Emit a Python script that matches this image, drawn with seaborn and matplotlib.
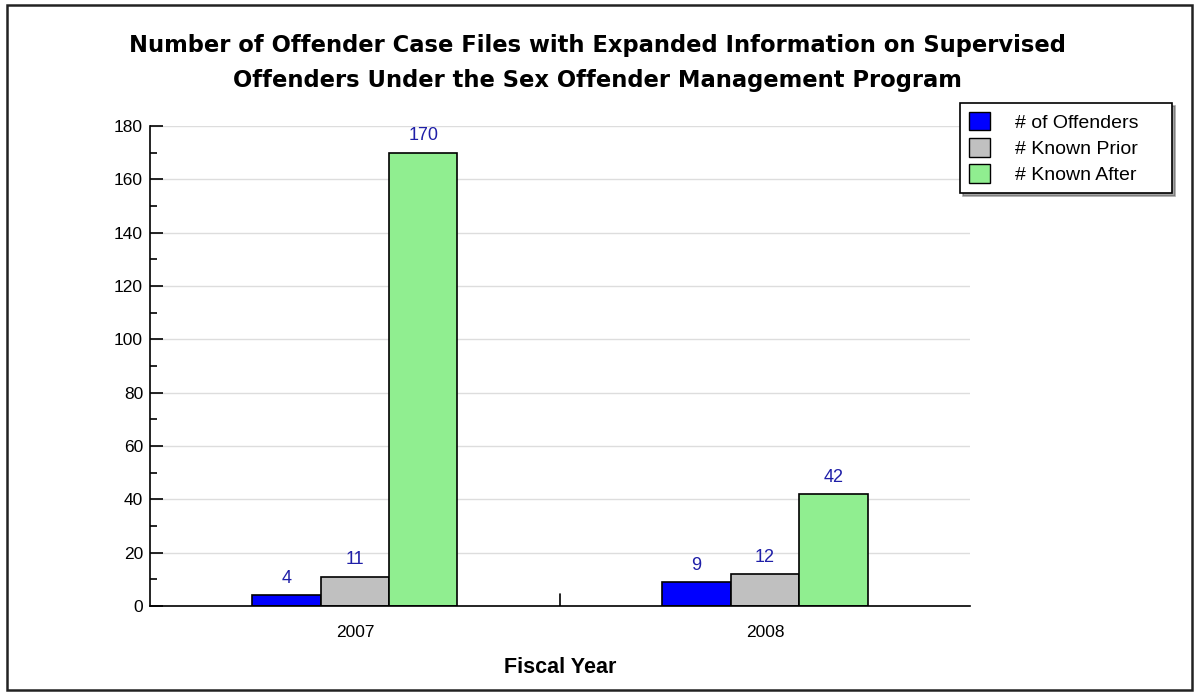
import matplotlib.pyplot as plt
import seaborn as sns
import pandas as pd
from matplotlib.patches import Rectangle

years = ["2007", "2008"]
series = ["# of Offenders", "# Known Prior", "# Known After"]
offenders = [4, 9]
known_prior = [11, 12]
known_after = [170, 42]
colors = ["#0000ff", "#c0c0c0", "#90ee90"]

df = pd.DataFrame({
    "year": years * 3,
    "series": [s for s in series for _ in years],
    "value": offenders + known_prior + known_after,
})

sns.set_style("white")
plt.rcParams["font.family"] = ["Liberation Sans", "DejaVu Sans"]
plt.rcParams["text.color"] = "black"
plt.rcParams["axes.labelcolor"] = "black"
plt.rcParams["xtick.color"] = "black"
plt.rcParams["ytick.color"] = "black"

fig = plt.figure(figsize=(11.94, 6.98), dpi=100)
ax = fig.add_axes([0.1256, 0.1318, 0.6868, 0.6877])

sns.barplot(data=df, x="year", y="value", hue="series", hue_order=series,
            palette=colors, width=0.5, gap=0, edgecolor="black", linewidth=1.2,
            saturation=1, ax=ax, legend=False)

for cont in ax.containers:
    ax.bar_label(cont, padding=6, color="#1f1fa8", fontsize=13)

ax.set_ylim(0, 180)
ax.set_xlim(-0.5, 1.5)
ax.set_yticks(range(0, 181, 20))
ax.set_yticks(range(0, 181, 10), minor=True)
ax.yaxis.grid(True, which="major", color="#dddddd", linewidth=1)
ax.set_axisbelow(True)
ax.tick_params(axis="y", which="major", direction="in", length=9, width=1.2,
               labelsize=12.5, left=True, pad=5)
ax.tick_params(axis="y", which="minor", direction="in", length=5, width=1.2, left=True)
ax.set_xticks([0, 1])
ax.set_xticklabels(years)
ax.tick_params(axis="x", length=0, labelsize=12.5, pad=14)
ax.axvline(0.5, ymin=0, ymax=12 / 480, color="black", linewidth=1.2)
for side in ["top", "right"]:
    ax.spines[side].set_visible(False)
for side in ["left", "bottom"]:
    ax.spines[side].set_color("black")
    ax.spines[side].set_linewidth(1.2)
ax.set_ylabel("")
ax.set_xlabel("Fiscal Year", fontsize=15.5, fontweight="bold", labelpad=12)

fig.text(0.5, 0.935, "Number of Offender Case Files with Expanded Information on Supervised",
         ha="center", va="center", fontsize=16.3, fontweight="bold", family="DejaVu Sans")
fig.text(0.5, 0.885, "Offenders Under the Sex Offender Management Program",
         ha="center", va="center", fontsize=16.3, fontweight="bold", family="DejaVu Sans")

# legend box spans 960..1172 px horizontally, top at 103 px
handles = [Rectangle((0, 0), 1, 1, facecolor=c, edgecolor="black") for c in colors]
leg = fig.legend(handles, series, loc="upper left",
                 bbox_to_anchor=(960 / 1194, 1 - 103 / 698, 212 / 1194, 0),
                 mode="expand", frameon=True, fancybox=False, shadow=True, fontsize=14,
                 handlelength=1.1, handleheight=1.1, borderpad=0.45,
                 labelspacing=0.33, handletextpad=1.3, borderaxespad=0)
leg.get_frame().set_edgecolor("black")
leg.get_frame().set_linewidth(1.2)

fig.patches.append(Rectangle((7 / 1194, 8 / 698), 1185 / 1194, 685 / 698,
                             transform=fig.transFigure, fill=False,
                             edgecolor="#222222", linewidth=1.8))

fig.savefig("out.png", dpi=100)
